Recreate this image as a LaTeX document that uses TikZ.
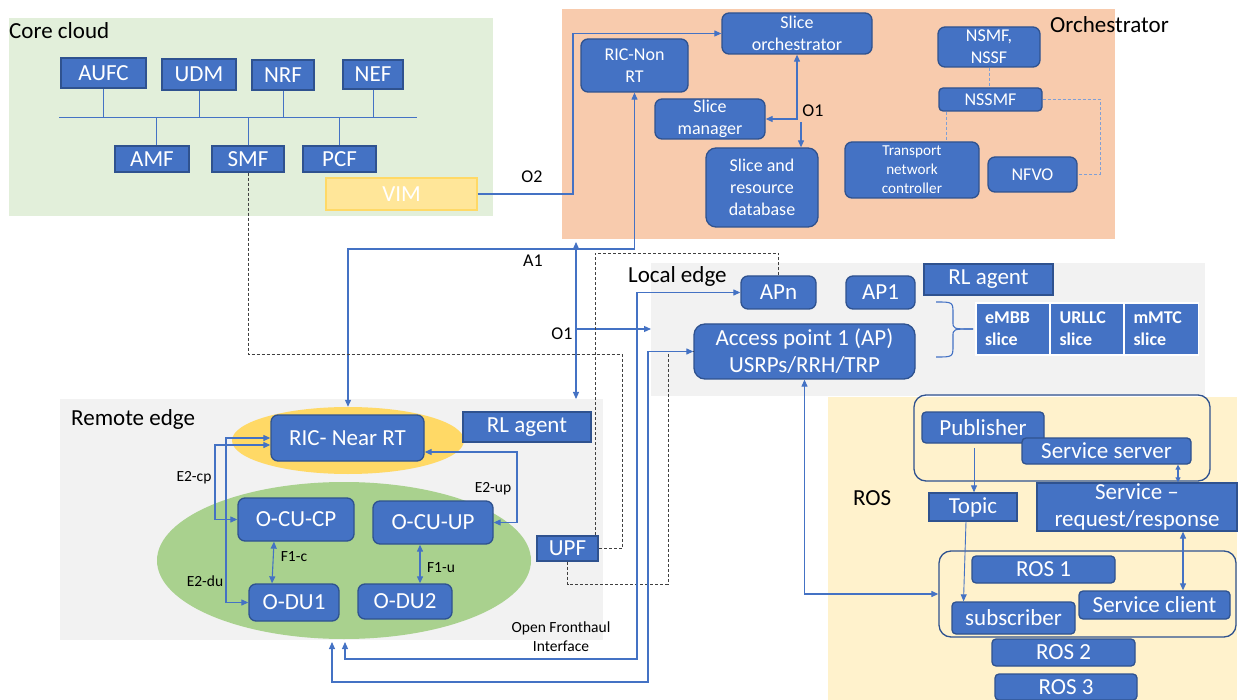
\documentclass[tikz,border=0pt]{standalone}
\usepackage{fontspec}
\setmainfont{Carlito}
\usetikzlibrary{arrows.meta,shapes.geometric}

\definecolor{boxblue}{HTML}{4472C4}
\definecolor{boxedge}{HTML}{2F528F}
\definecolor{wireblue}{HTML}{4472C4}
\definecolor{corebg}{HTML}{E2EFDA}
\definecolor{orchbg}{HTML}{F8CBAD}
\definecolor{edgebg}{HTML}{F2F2F2}
\definecolor{rosbg}{HTML}{FFF2CC}
\definecolor{ricbg}{HTML}{FFD966}
\definecolor{rangreen}{HTML}{A9D18E}
\definecolor{vimfill}{HTML}{FFE699}
\definecolor{vimedge}{HTML}{FFD966}
\definecolor{dashgray}{HTML}{404040}
\definecolor{dashblue}{HTML}{7F9FD6}

\newcommand\szL{\fontsize{23}{27}\selectfont}
\newcommand\szM{\fontsize{18}{22}\selectfont}
\newcommand\szS{\fontsize{15.5}{19}\selectfont}
\newcommand\szT{\fontsize{15.2}{19}\selectfont}

\begin{document}
\begin{tikzpicture}[x=1pt,y=-1pt,
  sqbox/.style={rectangle, fill=boxblue, draw=boxedge, line width=1.3pt,
    text=white, inner sep=0pt, align=center, font=\szL},
  rdbox/.style={sqbox, rounded corners=7pt},
  smallrd/.style={sqbox, rounded corners=4pt},
  slicebox/.style={rectangle, fill=boxblue, draw=white, line width=1.5pt,
    text=white, font=\szM\bfseries, align=left, inner xsep=9pt,
    inner ysep=0pt, minimum height=52pt},
  outline/.style={rectangle, draw=boxedge, line width=1.3pt,
    rounded corners=12pt, inner sep=0pt},
  region/.style={font=\szL, text=black, inner sep=0pt, anchor=west},
  lab/.style={font=\szM, text=black, inner sep=0pt},
  slab/.style={font=\szS, text=black, inner sep=0pt, align=center},
  wire/.style={draw=wireblue, line width=1.1pt},
  thinwire/.style={draw=wireblue, line width=0.9pt},
  bus/.style={draw=wireblue, line width=1pt},
  kdash/.style={draw=dashgray, line width=0.9pt, dash pattern=on 3pt off 2pt},
  bdash/.style={draw=dashblue, line width=1pt, dash pattern=on 3pt off 2pt},
  toend/.style={-{Triangle[length=7pt,width=6pt]}},
  bothends/.style={{Triangle[length=7pt,width=6pt]}-{Triangle[length=7pt,width=6pt]}},
  bothsmall/.style={{Triangle[length=5pt,width=5pt]}-{Triangle[length=5pt,width=5pt]}}
]
\useasboundingbox (0,0) rectangle (1242,700);

% ---------- region backgrounds ----------
\fill[corebg] (9,18) rectangle (493,216);
\fill[orchbg] (562,9) rectangle (1115,239);
\fill[edgebg] (651,263) rectangle (1205,396);
\fill[edgebg] (60,399) rectangle (603,640);
\fill[rosbg] (828,397) rectangle (1237,700);

\node[region] (lcore) at (9,31) {Core cloud};
\node[region] (lorch) at (1050,25) {Orchestrator};
\node[region] (llocal) at (628,276) {Local edge};
\node[region] (lremote) at (71,419) {Remote edge};
\node[region] (lros) at (853,498) {ROS};

% ---------- core cloud ----------
\node[sqbox, minimum width=85pt, minimum height=30pt] (aufc) at (103.5,73) {AUFC};
\node[sqbox, minimum width=74pt, minimum height=31pt] (udm) at (199,74.5) {UDM};
\node[sqbox, minimum width=62pt, minimum height=30pt] (nrf) at (283,75) {NRF};
\node[sqbox, minimum width=60pt, minimum height=29pt] (nef) at (373,74.5) {NEF};
\node[sqbox, minimum width=74pt, minimum height=26pt] (amf) at (152,159) {AMF};
\node[sqbox, minimum width=72pt, minimum height=26pt] (smf) at (248,159) {SMF};
\node[sqbox, minimum width=73pt, minimum height=26pt] (pcf) at (339.5,159) {PCF};
\node[sqbox, fill=vimfill, draw=vimedge, minimum width=151pt, minimum height=32pt] (vim) at (401.5,194) {VIM};

\coordinate (busL) at (59,118);
\coordinate (busR) at (417,118);
\draw[bus] (busL) -- (busR);
\foreach \n in {aufc,udm,nrf,nef} \draw[bus] (\n.south) -- (\n.south |- busL);
\foreach \n in {smf,pcf} \draw[bus] (\n.north) -- (\n.north |- busL);
\draw[bus] ([xshift=4pt]amf.north) -- ([xshift=4pt]amf.north |- busL);

% ---------- orchestrator ----------
\node[rdbox, font=\szM, minimum width=150pt, minimum height=41pt] (sorch) at (797,33.5) {Slice\\orchestrator};
\node[rdbox, font=\szM, minimum width=107pt, minimum height=53pt] (ricnon) at (634.5,65.5) {RIC-Non\\RT};
\node[rdbox, font=\szM, minimum width=110pt, minimum height=40pt] (sman) at (710,119) {Slice\\manager};
\node[rdbox, font=\szM, rounded corners=10pt, minimum width=112pt, minimum height=79pt] (sdb) at (762,187.5) {Slice and\\resource\\database};
\node[rdbox, font=\szM, minimum width=102pt, minimum height=40pt] (nsmf) at (989,47) {NSMF,\\NSSF};
\node[smallrd, font=\szM, minimum width=103pt, minimum height=23pt] (nssmf) at (990.5,99.5) {NSSMF};
\node[rdbox, font=\szT, minimum width=134pt, minimum height=56pt] (tnc) at (912,170) {Transport\\network\\controller};
\node[rdbox, font=\szM, minimum width=89pt, minimum height=35pt] (nfvo) at (1032.5,174.5) {NFVO};

\draw[wire,bothends] (sorch.south) |- (sman.east);
\coordinate (o1db) at (801,122);
\draw[wire,toend] (o1db) -- (o1db |- sdb.north);
\node[lab] (lo1orch) at (813,111) {O1};

\draw[bdash] (nsmf.south) -- (nsmf.south |- nssmf.north);
\coordinate (tncx) at (946,0);
\draw[bdash] (nssmf.south -| tncx) -- (tnc.north -| tncx);
\coordinate (nfvx) at (1100,99.5);
\draw[bdash] (nssmf.east) -- (nfvx) |- (nfvo.east);

% ---------- local edge ----------
\node[rdbox, minimum width=75pt, minimum height=33pt] (apn) at (778.5,292.5) {APn};
\node[rdbox, minimum width=69pt, minimum height=33pt] (ap1) at (880.5,292.5) {AP1};
\node[sqbox, minimum width=129pt, minimum height=31pt] (rlloc) at (988.5,279.5) {RL agent};
\node[rdbox, rounded corners=11pt, minimum width=221pt, minimum height=55pt] (ap) at (804.5,351.5) {Access point 1 (AP)\\USRPs/RRH/TRP};
\node[slicebox, text width=56pt] (embb) at (1013,329) {eMBB\\slice};
\node[slicebox, text width=55pt] (urllc) at (1087,329) {URLLC\\slice};
\node[slicebox, text width=56pt] (mmtc) at (1161.5,329) {mMTC\\slice};

% brace grouping the slices
\draw[wire] (936,302) .. controls (953,302) .. (953,314) -- (953,322)
  .. controls (953,329) .. (973,329);
\draw[wire] (973,329) .. controls (953,329) .. (953,336) -- (953,345)
  .. controls (953,357) .. (936,357);

% ---------- remote edge ----------
\node[ellipse, fill=ricbg, inner sep=0pt, minimum width=232pt, minimum height=67pt] (ricell) at (348,440.5) {};
\node[ellipse, fill=rangreen, inner sep=0pt, minimum width=374pt, minimum height=157pt] (ranell) at (344,560.5) {};
\node[rdbox, minimum width=153pt, minimum height=46pt] (ricnr) at (347.5,438) {RIC- Near RT};
\node[sqbox, minimum width=128pt, minimum height=30pt] (rlrem) at (527,427) {RL agent};
\node[rdbox, minimum width=116pt, minimum height=43pt] (ocucp) at (296,519.5) {O-CU-CP};
\node[rdbox, minimum width=120pt, minimum height=43pt] (ocuup) at (433,522.5) {O-CU-UP};
\node[rdbox, minimum width=90pt, minimum height=37pt] (odu1) at (294,602.5) {O-DU1};
\node[rdbox, minimum width=94pt, minimum height=35pt] (odu2) at (405,601.5) {O-DU2};
\node[sqbox, minimum width=61pt, minimum height=25pt] (upf) at (567.5,548.5) {UPF};

\coordinate (e2cpx) at (215,0);
\coordinate (e2dux) at (226,0);
\coordinate (e2upx) at (517,0);
\draw[wire,bothends] ([yshift=-7pt]ricnr.west) -| (e2cpx |- ocucp.west) -- (ocucp.west);
\draw[wire,bothends] (ricnr.west) -| (e2dux |- odu1.west) -- (odu1.west);
\draw[wire,bothends] ([yshift=-14pt]ricnr.east) -| (e2upx |- ocuup.east) -- (ocuup.east);
\draw[wire,bothends] ([xshift=-22pt]ocucp.south) -- ([xshift=-22pt]odu1.north);
\draw[wire,bothends] ([xshift=-13pt]ocuup.south) -- ([xshift=15pt]odu2.north);

\node[slab] (le2cp) at (194,478) {E2-cp};
\node[slab] (le2du) at (205,581) {E2-du};
\node[slab] (le2up) at (493,489) {E2-up};
\node[slab] (lf1c) at (294,557) {F1-c};
\node[slab] (lf1u) at (441,568) {F1-u};
\node[slab] (lofh) at (561,637) {Open Fronthaul\\Interface};

% ---------- ROS ----------
\node[outline, minimum width=296pt, minimum height=86pt] (rosup) at (1062,438) {};
\node[outline, minimum width=297pt, minimum height=86pt] (roslow) at (1087.5,594) {};
\node[smallrd, minimum width=122pt, minimum height=31pt] (pub) at (983,427.5) {Publisher};
\node[smallrd, minimum width=169pt, minimum height=26pt] (sserver) at (1106.5,451) {Service server};
\node[sqbox, minimum width=88pt, minimum height=28pt] (topic) at (973,507) {Topic};
\node[sqbox, minimum width=200pt, minimum height=48pt] (sreq) at (1137,507) {Service --\\request/response};
\node[smallrd, minimum width=143pt, minimum height=27pt] (ros1) at (1043.5,569.5) {ROS 1};
\node[smallrd, minimum width=151pt, minimum height=28pt] (sclient) at (1154.5,605) {Service client};
\node[smallrd, minimum width=123pt, minimum height=32pt] (sub) at (1013.5,618) {subscriber};
\node[smallrd, minimum width=143pt, minimum height=27pt] (ros2) at (1063.5,652.5) {ROS 2};
\node[smallrd, minimum width=142pt, minimum height=26pt] (ros3) at (1066,687) {ROS 3};

\coordinate (pubout) at (974,448);
\draw[thinwire,toend] (pubout) -- (pubout |- topic.north);
\draw[thinwire,toend] ([xshift=-7pt]topic.south) -- ([xshift=-50pt]sub.north);
\coordinate (rx1) at (1178,0);
\coordinate (rx2) at (1183,0);
\draw[wire,bothsmall] (sserver.south -| rx1) -- (sreq.north -| rx1);
\draw[wire,bothends] (sreq.south -| rx2) -- (sclient.north -| rx2);

% ---------- links between sites ----------
\coordinate (o2bend) at (573,194);
\draw[wire,toend] (vim.east) -- (o2bend) |- (sorch.west);
\node[lab] (lo2) at (532,177) {O2};

\coordinate (a1bend) at (348,249);
\draw[wire,bothends] (ricnon.south) |- (a1bend) -- (ricell.north);
\node[lab] (la1) at (533,261) {A1};

\coordinate (o1top) at (576,242);
\coordinate (o1bot) at (576,399);
\coordinate (o1mid) at (576,329);
\coordinate (o1end) at (651,329);
\draw[wire,bothends] (o1top) -- (o1bot);
\draw[wire,toend] (o1mid) -- (o1end);
\node[lab] (lo1) at (562,334) {O1};

\coordinate (smfbend) at (622,354);
\draw[kdash] (smf.south) |- (smfbend) |- (upf.east);
\coordinate (apnbend) at (595,253);
\draw[kdash] (apn.north) |- (apnbend) -- (apnbend |- upf.north);
\coordinate (upfbend) at (668,584);
\draw[kdash] (upf.south) |- (upfbend) |- (ap.west);

\coordinate (fhA) at (345,642);
\coordinate (fhAbend) at (637,659);
\draw[wire,bothends] (fhA) |- (fhAbend) |- (apn.west);
\coordinate (fhB) at (332,642);
\coordinate (fhBbend) at (648,682);
\draw[wire,bothends] (fhB) |- (fhBbend) |- (ap.west);

\draw[wire,bothends] (ap.south) |- (roslow.west);
\end{tikzpicture}
\end{document}
